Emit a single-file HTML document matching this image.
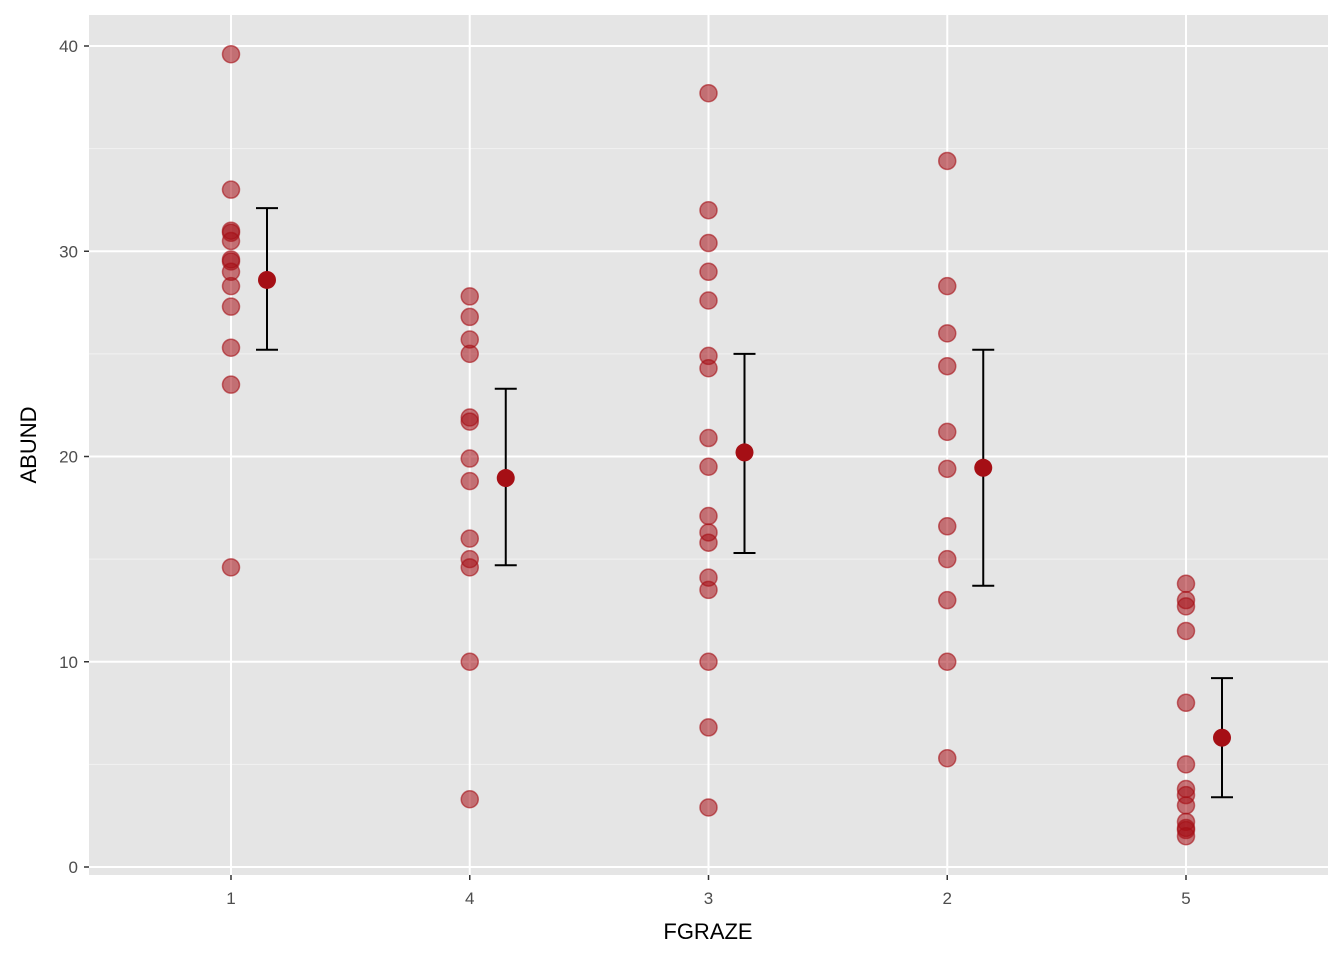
<!DOCTYPE html>
<html><head><meta charset="utf-8"><style>
body{margin:0;background:#fff;font-family:"Liberation Sans",sans-serif}
svg text{font-family:"Liberation Sans",sans-serif}
</style></head><body>
<svg id="c" width="1344" height="960"></svg>
<script>
const categories=["1","4","3","2","5"];
const pointsG1=[39.6,33,31,30.9,30.5,29.6,29.5,29,28.3,27.3,25.3,23.5,14.6];
const pointsG4=[27.8,26.8,25.7,25,21.9,21.7,19.9,18.8,16,15,14.6,10,3.3];
const pointsG3=[37.7,32,30.4,29,27.6,24.9,24.3,20.9,19.5,17.1,16.3,15.8,14.1,13.5,10,6.8,2.9];
const pointsG2=[34.4,28.3,26,24.4,21.2,19.4,16.6,15,13,10,5.3];
const pointsG5=[13.8,13,12.7,11.5,8,5,3.8,3.5,3,2.2,1.9,1.8,1.5];
const means=[28.6,18.95,20.2,19.45,6.3];
const lower=[25.2,14.7,15.3,13.7,3.4];
const upper=[32.1,23.3,25.0,25.2,9.2];
const yTicks=[0,10,20,30,40];
const groups=[pointsG1,pointsG4,pointsG3,pointsG2,pointsG5];

const svg=document.getElementById('c');
const NS='http://www.w3.org/2000/svg';
const L=89,R=1328,T=15,B=875;
const x=i=>231+i*238.75;
const y=v=>867-v*20.525;
function mk(t,a,p){const e=document.createElementNS(NS,t);for(const k in a)e.setAttribute(k,a[k]);(p||svg).appendChild(e);return e;}
const panel=mk('rect',{x:L,y:T,width:R-L,height:B-T,fill:'#e5e5e5'});


for(let v=5;v<=45;v+=10){if(y(v)<T)continue;const g=mk('line',{x1:L,x2:R,y1:y(v),y2:y(v),stroke:'#f2f2f2','stroke-width':1});

}
yTicks.forEach(v=>{const g=mk('line',{x1:L,x2:R,y1:y(v),y2:y(v),stroke:'#fff','stroke-width':2});


mk('line',{x1:84,x2:89,y1:y(v),y2:y(v),stroke:'#333','stroke-width':1.5});
const t=mk('text',{x:78,y:y(v)+6,'text-anchor':'end','font-size':17,fill:'#4d4d4d'});t.textContent=v;

});
categories.forEach((c,i)=>{const g=mk('line',{x1:x(i),x2:x(i),y1:T,y2:B,stroke:'#fff','stroke-width':2});


mk('line',{x1:x(i),x2:x(i),y1:B,y2:B+5,stroke:'#333','stroke-width':1.5});
const t=mk('text',{x:x(i),y:904,'text-anchor':'middle','font-size':17,fill:'#4d4d4d'});t.textContent=c;

});
groups.forEach((arr,i)=>{arr.forEach(v=>{const p=mk('circle',{cx:x(i),cy:y(v),r:8.5,fill:'rgba(165,15,21,0.55)',stroke:'rgba(165,15,21,0.6)','stroke-width':1.5});

});
const mx=x(i)+36;
const eb=mk('path',{d:`M${mx-11},${y(upper[i])}H${mx+11}M${mx},${y(upper[i])}V${y(lower[i])}M${mx-11},${y(lower[i])}H${mx+11}`,stroke:'#000','stroke-width':2,fill:'none'});


const m=mk('circle',{cx:mx,cy:y(means[i]),r:9,fill:'#a50f15'});

});
const xt=mk('text',{x:708,y:939,'text-anchor':'middle','font-size':22,fill:'#000'});xt.textContent='FGRAZE';


const yt=mk('text',{x:36,y:445,'text-anchor':'middle','font-size':22,fill:'#000',transform:'rotate(-90 36 445)'});yt.textContent='ABUND';


</script>
</body></html>
